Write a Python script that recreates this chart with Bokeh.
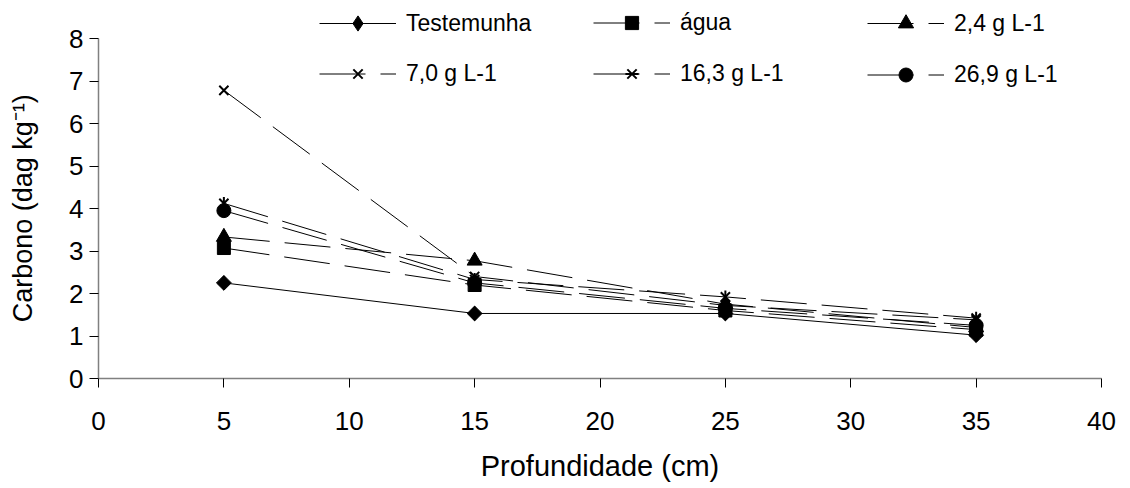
import math
from bokeh.plotting import figure
from bokeh.models import Range1d, FixedTicker, Legend, LegendItem
from bokeh.embed import file_html
from bokeh.resources import INLINE

# ---- data ----
depth = [5, 15, 25, 35]
testemunha = [2.25, 1.53, 1.53, 1.02]
agua = [3.07, 2.20, 1.60, 1.15]
g2_4 = [3.33, 2.77, 1.75, 1.20]
g7_0 = [6.78, 2.40, 1.72, 1.38]
g16_3 = [4.12, 2.33, 1.92, 1.42]
g26_9 = [3.95, 2.25, 1.65, 1.25]
series_labels = ["Testemunha", "água", "2,4 g L-1", "7,0 g L-1", "16,3 g L-1", "26,9 g L-1"]
x_ticks = [0, 5, 10, 15, 20, 25, 30, 35, 40]
y_ticks = [0, 1, 2, 3, 4, 5, 6, 7, 8]
x_title = "Profundidade (cm)"
y_title = "Carbono (dag kg\u207b\u00b9)"

FONT = "Liberation Sans"
DASH = "46 15"

FRAME_H = 378          # frame reaches the top of the page so the legend is not clipped
PX_PER_UNIT = 42.5     # vertical scale of the reference
Y_TOP = FRAME_H / PX_PER_UNIT

p = figure(frame_width=1003, frame_height=FRAME_H,
           min_border_left=98, min_border_right=29,
           min_border_top=0, min_border_bottom=110,
           x_range=Range1d(0, 40), y_range=Range1d(0, Y_TOP),
           output_backend="svg", toolbar_location=None,
           background_fill_color="white", border_fill_color="white")
p.outline_line_color = None
p.xgrid.visible = False
p.ygrid.visible = False

for ax, ticks in ((p.xaxis[0], x_ticks), (p.yaxis[0], y_ticks)):
    ax.ticker = FixedTicker(ticks=ticks)
    ax.minor_tick_line_color = None
    ax.major_tick_in = 0
    ax.major_tick_out = 9
    ax.major_tick_line_color = "black"
    ax.axis_line_color = "#808080"
    ax.axis_line_width = 1.5
    ax.major_label_text_font = FONT
    ax.major_label_text_font_size = "26px"
    ax.major_label_text_color = "black"
    ax.axis_label_text_font = FONT
    ax.axis_label_text_font_style = "normal"
    ax.axis_label_text_color = "black"

p.yaxis.bounds = (y_ticks[0], y_ticks[-1])
p.xaxis.axis_label = x_title
# trailing no-break spaces keep the (frame-centred) title centred on the 0-8 span
p.yaxis.axis_label = y_title + "\u00a0" * 5
p.xaxis.axis_label_text_font_size = "29px"
p.yaxis.axis_label_text_font_size = "27px"
p.xaxis.major_label_standoff = 24
p.xaxis.axis_label_standoff = 17
p.yaxis.major_label_standoff = 6
p.yaxis.axis_label_standoff = 28

items = []

# Testemunha - solid, diamond
l0 = p.line(depth, testemunha, line_color="black", line_width=1)
d0 = p.scatter(depth, testemunha, marker="diamond", size=14,
               fill_color="black", line_color="black")
m0 = p.scatter(depth, testemunha, marker="square", angle=math.pi / 4, size=10.5,
               fill_color="black", line_color="black")
items.append(LegendItem(label=series_labels[0], renderers=[l0, d0]))

# água - dashed, square
l1 = p.line(depth, agua, line_color="black", line_width=1, line_dash=DASH)
m1 = p.scatter(depth, agua, marker="square", size=13, fill_color="black", line_color="black")
items.append(LegendItem(label=series_labels[1], renderers=[l1, m1]))

# 2,4 - dashed, triangle
l2 = p.line(depth, g2_4, line_color="black", line_width=1, line_dash=DASH)
m2 = p.scatter(depth, g2_4, marker="triangle", size=15, fill_color="black", line_color="black")
items.append(LegendItem(label=series_labels[2], renderers=[l2, m2]))

# 7,0 - dashed, x
l3 = p.line(depth, g7_0, line_color="black", line_width=1, line_dash=DASH)
m3 = p.scatter(depth, g7_0, marker="x", size=13, line_color="black", line_width=2)
items.append(LegendItem(label=series_labels[3], renderers=[l3, m3]))

# 16,3 - dashed, star (x + vertical bar)
l4 = p.line(depth, g16_3, line_color="black", line_width=1, line_dash=DASH)
m4a = p.scatter(depth, g16_3, marker="x", size=13, line_color="black", line_width=2)
m4b = p.scatter(depth, g16_3, marker="dash", angle=math.pi / 2, size=13,
                line_color="black", line_width=2)
items.append(LegendItem(label=series_labels[4], renderers=[l4, m4a, m4b]))

# 26,9 - dashed, circle
l5 = p.line(depth, g26_9, line_color="black", line_width=1, line_dash=DASH)
m5 = p.scatter(depth, g26_9, marker="circle", size=14, fill_color="black", line_color="black")
items.append(LegendItem(label=series_labels[5], renderers=[l5, m5]))

# legend layout: (item, left offset in frame px, row centre from top, glyph height)
TEXT_H = 27
legend_specs = [
    (items[0], 221, 22.7, 38),
    (items[1], 495, 22.7, 33),
    (items[2], 769, 22.7, 38),
    (items[3], 221, 74.0, 33),
    (items[4], 495, 74.0, 33),
    (items[5], 769, 74.0, 35),
]
for it, xloc, yc, gh in legend_specs:
    h = max(gh, TEXT_H)
    lg = Legend(items=[it], location=(xloc, round(FRAME_H - (yc + h / 2))),
                orientation="vertical",
                glyph_width=77, glyph_height=gh, label_height=20, label_standoff=10,
                spacing=0, padding=0, margin=0,
                border_line_alpha=0, background_fill_alpha=0,
                label_text_font=FONT, label_text_font_size="23px",
                label_text_color="black")
    p.add_layout(lg)

open("out.html", "w").write(file_html(p, INLINE))
